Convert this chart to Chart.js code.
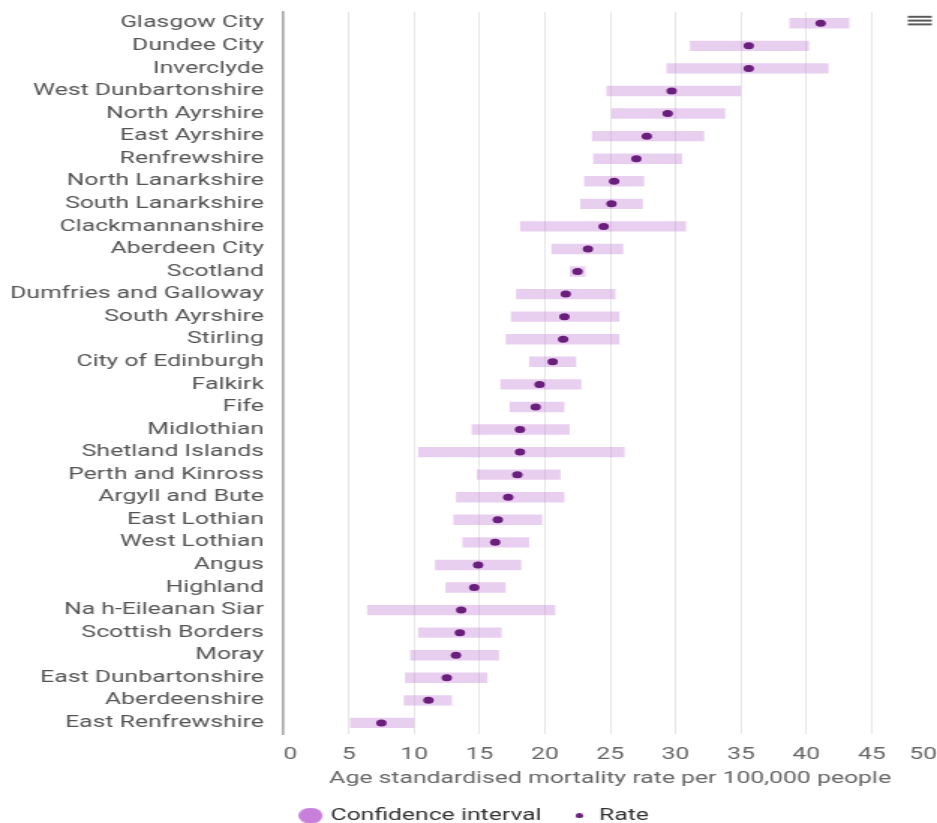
<!DOCTYPE html>
<html>
<head>
<meta charset="utf-8">
<script src="https://cdn.jsdelivr.net/npm/chart.js@4/dist/chart.umd.min.js"></script>
<style>
  html, body { margin: 0; padding: 0; background: #fff; overflow: hidden; }
  #wrap {
    position: absolute; left: 0; top: 0;
    width: 625px; height: 823px;
    transform: scaleX(1.4992); transform-origin: 0 0;
  }
</style>
</head>
<body>
<div id="wrap"><canvas id="chart"></canvas></div>
<script>
// Council areas, highest rate first
const areas = [
  'Glasgow City', 'Dundee City', 'Inverclyde', 'West Dunbartonshire', 'North Ayrshire',
  'East Ayrshire', 'Renfrewshire', 'North Lanarkshire', 'South Lanarkshire', 'Clackmannanshire',
  'Aberdeen City', 'Scotland', 'Dumfries and Galloway', 'South Ayrshire', 'Stirling',
  'City of Edinburgh', 'Falkirk', 'Fife', 'Midlothian', 'Shetland Islands',
  'Perth and Kinross', 'Argyll and Bute', 'East Lothian', 'West Lothian', 'Angus',
  'Highland', 'Na h-Eileanan Siar', 'Scottish Borders', 'Moray', 'East Dunbartonshire',
  'Aberdeenshire', 'East Renfrewshire'
];

// Age standardised mortality rate per 100,000
const rate = [
  41.1, 35.6, 35.6, 29.7, 29.4, 27.8, 27.0, 25.3, 25.1, 24.5,
  23.3, 22.5, 21.6, 21.5, 21.4, 20.6, 19.6, 19.3, 18.1, 18.1,
  17.9, 17.2, 16.4, 16.2, 14.9, 14.6, 13.6, 13.5, 13.2, 12.5,
  11.1, 7.5
];

// 95% confidence interval bounds
const lower = [
  38.7, 31.1, 29.3, 24.7, 25.1, 23.6, 23.7, 23.0, 22.7, 18.1,
  20.5, 21.9, 17.8, 17.4, 17.0, 18.8, 16.6, 17.3, 14.4, 10.3,
  14.8, 13.2, 13.0, 13.7, 11.6, 12.4, 6.4, 10.3, 9.7, 9.3,
  9.2, 5.1
];
const upper = [
  43.3, 40.2, 41.7, 35.0, 33.8, 32.2, 30.5, 27.6, 27.5, 30.8,
  26.0, 23.1, 25.4, 25.7, 25.7, 22.4, 22.8, 21.5, 21.9, 26.1,
  21.2, 21.5, 19.8, 18.8, 18.2, 17.0, 20.8, 16.7, 16.5, 15.6,
  12.9, 10.0
];

// Value axis ticks
const xTicks = [0, 5, 10, 15, 20, 25, 30, 35, 40, 45, 50];

const seriesNames = ['Confidence interval', 'Rate'];
const xTitle = 'Age standardised mortality rate per 100,000 people';

const CI_FILL = 'rgba(196, 128, 214, 0.38)';
const CI_KEY = '#c680d9';
const RATE_COLOR = '#6b1f7d';

// Round legend markers of different sizes
function dotImage(d, color) {
  const c = document.createElement('canvas');
  c.width = d; c.height = d;
  const g = c.getContext('2d');
  g.fillStyle = color;
  g.beginPath();
  g.arc(d / 2, d / 2, d / 2, 0, Math.PI * 2);
  g.fill();
  return c;
}
const legendMarkers = [dotImage(16, CI_KEY), dotImage(5, RATE_COLOR)];

// Small "hamburger" menu glyph in the top-right corner
const menuIcon = {
  id: 'menuIcon',
  afterDraw(chart) {
    const g = chart.ctx;
    const x = chart.width - 19.5;
    g.save();
    g.fillStyle = '#5a5a5a';
    [15.8, 19.6, 23.4].forEach(y => g.fillRect(x, y, 16, 2));
    g.restore();
  }
};

// Nudge the legend row a little to the right of centre
const legendNudge = {
  id: 'legendNudge',
  afterLayout(chart) {
    const l = chart.legend;
    if (l) { l.left += 5; l.right += 5; }
  }
};

Chart.defaults.font.family = 'Roboto, "Noto Sans", sans-serif';
Chart.defaults.font.size = 16.5;

new Chart(document.getElementById('chart'), {
  type: 'bar',
  data: {
    labels: areas,
    datasets: [
      {
        type: 'bar',
        label: seriesNames[0],
        data: areas.map((a, i) => [lower[i], upper[i]]),
        backgroundColor: CI_FILL,
        borderWidth: 0,
        barPercentage: 0.46,
        categoryPercentage: 1,
        order: 2
      },
      {
        type: 'scatter',
        label: seriesNames[1],
        data: areas.map((a, i) => ({ x: rate[i], y: a })),
        backgroundColor: RATE_COLOR,
        pointBackgroundColor: RATE_COLOR,
        pointBorderWidth: 0,
        pointRadius: 3.5,
        pointHoverRadius: 3.5,
        showLine: false,
        order: 1
      }
    ]
  },
  options: {
    indexAxis: 'y',
    responsive: true,
    maintainAspectRatio: false,
    animation: false,
    layout: { autoPadding: false, padding: { top: 12, left: 0, right: 0, bottom: -11 } },
    scales: {
      y: {
        type: 'category',
        position: 'left',
        offset: true,
        grid: { display: false, drawTicks: false },
        border: { display: true, color: '#a3a3a3', width: 1.4 },
        ticks: { color: '#555', padding: 13, autoSkip: false },
        afterFit(s) { s.width = 189; s.paddingTop = 0; s.paddingBottom = 0; }
      },
      x: {
        type: 'linear',
        position: 'bottom',
        min: xTicks[0],
        max: xTicks[xTicks.length - 1],
        afterBuildTicks(s) { s.ticks = xTicks.map(v => ({ value: v })); },
        grid: { color: '#e6e6e6', lineWidth: 1, drawTicks: false },
        border: { display: false },
        ticks: { color: '#666', padding: 11, align: 'inner' },
        title: {
          display: true,
          text: xTitle,
          color: '#666',
          font: { lineHeight: 1 },
          padding: { top: 6, bottom: 0 }
        },
        afterFit(s) { s.height = 53.3; s.paddingLeft = 0; s.paddingRight = 0; }
      }
    },
    plugins: {
      tooltip: { enabled: false },
      legend: {
        position: 'bottom',
        labels: {
          usePointStyle: true,
          boxWidth: 10,
          padding: 20,
          color: '#333',
          generateLabels(chart) {
            return chart.data.datasets.map((ds, i) => ({
              text: ds.label,
              pointStyle: legendMarkers[i],
              fillStyle: i === 0 ? CI_KEY : RATE_COLOR,
              strokeStyle: 'transparent',
              lineWidth: 0,
              hidden: false,
              datasetIndex: i,
              fontColor: '#333'
            }));
          }
        }
      }
    }
  },
  plugins: [menuIcon, legendNudge]
});
</script>
</body>
</html>
